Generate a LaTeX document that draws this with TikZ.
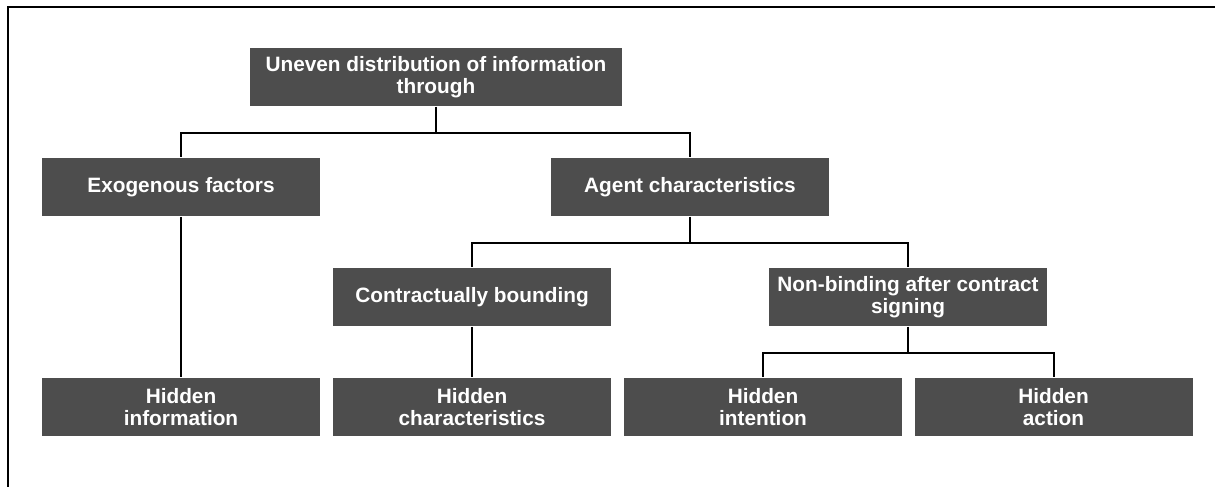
\documentclass[tikz,border=0pt]{standalone}
\usepackage{fontspec}
\setmainfont{Liberation Sans}
\usepackage{tikz}
\usetikzlibrary{calc}

\definecolor{boxgray}{HTML}{4D4D4D}

\begin{document}
\begin{tikzpicture}[
  x=1pt, y=1pt,
  line width=2pt,
  box/.style={
    fill=boxgray,
    draw=none,
    rectangle,
    minimum width=278pt,
    minimum height=58pt,
    inner sep=0pt,
    align=center,
    text=white,
    font=\bfseries\fontsize{20.8}{21.5}\selectfont
  }
]
\useasboundingbox (0,0) rectangle (1215,487);

% --- Frame (top and left edge only) ---
\draw (8,0) -- (8,479.5) -- (1215,479.5);

% --- Levels ---
\pgfmathsetmacro{\ya}{410}   % top box
\pgfmathsetmacro{\yb}{300}   % second row
\pgfmathsetmacro{\yc}{190}   % third row
\pgfmathsetmacro{\yd}{80}    % bottom row

% --- Blocks ---
\node[box, minimum width=372pt] (uneven) at (436, \ya)
  {Uneven distribution of information\\through};
\node[box] (exo)    at (181, \yb) {Exogenous factors};
\node[box] (agent)  at (690, \yb) {Agent characteristics};
\node[box] (contr)  at (472, \yc) {Contractually bounding};
\node[box] (nonbind) at (908, \yc) {Non-binding after contract\\signing};
\node[box] (hinfo)  at (181, \yd) {Hidden\\information};
\node[box] (hchar)  at (472, \yd) {Hidden\\characteristics};
\node[box] (hint)   at (763, \yd) {Hidden\\intention};
\node[box] (hact)   at (1053.5, \yd) {Hidden\\action};

% --- Connectors ---
\draw (uneven.south) -- ++(0,-26) -| (exo.north);
\draw (uneven.south) -- ++(0,-26) -| (agent.north);

\draw (exo.south) -- (hinfo.north);

\draw (agent.south) -- ++(0,-26) -| (contr.north);
\draw (agent.south) -- ++(0,-26) -| (nonbind.north);

\draw (contr.south) -- (hchar.north);

\draw (nonbind.south) -- ++(0,-26) -| (hint.north);
\draw (nonbind.south) -- ++(0,-26) -| (hact.north);

\end{tikzpicture}
\end{document}
